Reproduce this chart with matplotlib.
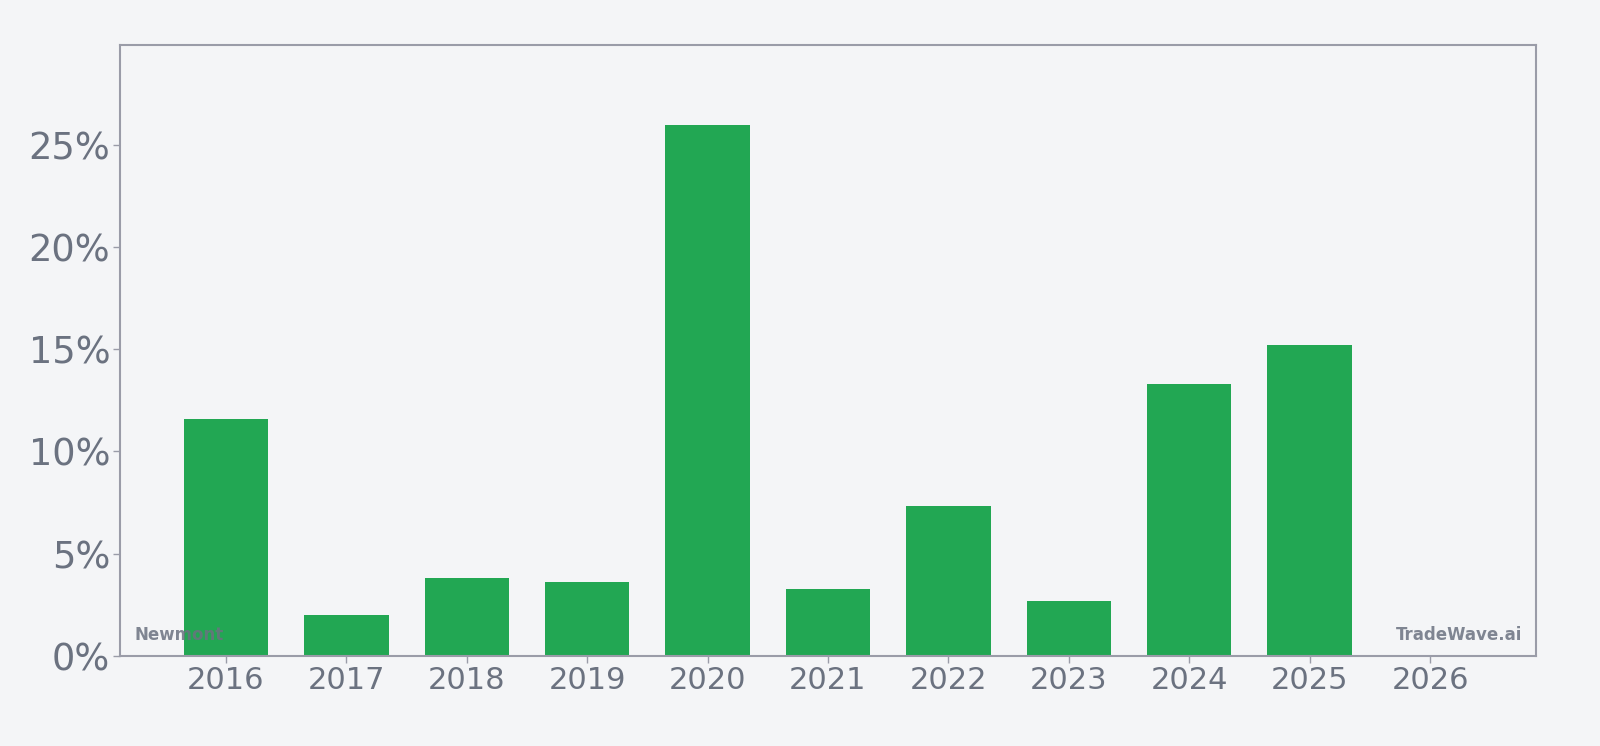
import matplotlib
matplotlib.use("Agg")
import matplotlib.pyplot as plt
from matplotlib.ticker import FuncFormatter, MultipleLocator

years = ["2016", "2017", "2018", "2019", "2020", "2021", "2022", "2023", "2024", "2025", "2026"]
values = [11.57, 1.99, 3.79, 3.62, 25.98, 3.29, 7.33, 2.69, 13.32, 15.22, 0.0]

BG = "#f4f5f7"
TXT = "#6b7280"
SPINE = "#9a9ca8"
GREEN = "#22a753"

fig = plt.figure(figsize=(16, 7.46), dpi=100, facecolor=BG)
ax = fig.add_axes([120/1600, 1 - 656/746, (1536-120)/1600, (656-45)/746])
ax.set_facecolor(BG)

x = list(range(len(years)))
ax.bar(x, values, width=0.7, color=GREEN, zorder=2)

ax.set_xlim(-0.88, 10.88)
ax.set_ylim(0, max(values) * 1.15)
ax.set_xticks(x)
ax.set_xticklabels(years)
ax.yaxis.set_major_locator(MultipleLocator(5))
ax.yaxis.set_major_formatter(FuncFormatter(lambda v, p: f"{v:.0f}%"))

ax.tick_params(axis="y", labelsize=26.5, colors=TXT, length=5, width=1, pad=2)
ax.tick_params(axis="x", labelsize=22, colors=TXT, length=5, width=1, pad=2)
for lab in ax.get_xticklabels() + ax.get_yticklabels():
    lab.set_color(TXT)
for s in ax.spines.values():
    s.set_color(SPINE)
    s.set_linewidth(1.5)
ax.tick_params(color=SPINE)

ax.text(0.01, 0.02, "Newmont", transform=ax.transAxes, fontsize=12, fontweight="bold",
        color=TXT, alpha=0.85, ha="left", va="bottom", zorder=5)
ax.text(0.99, 0.02, "TradeWave.ai", transform=ax.transAxes, fontsize=12, fontweight="bold",
        color=TXT, alpha=0.85, ha="right", va="bottom", zorder=5)

fig.savefig("out.png", dpi=100, facecolor=BG)
